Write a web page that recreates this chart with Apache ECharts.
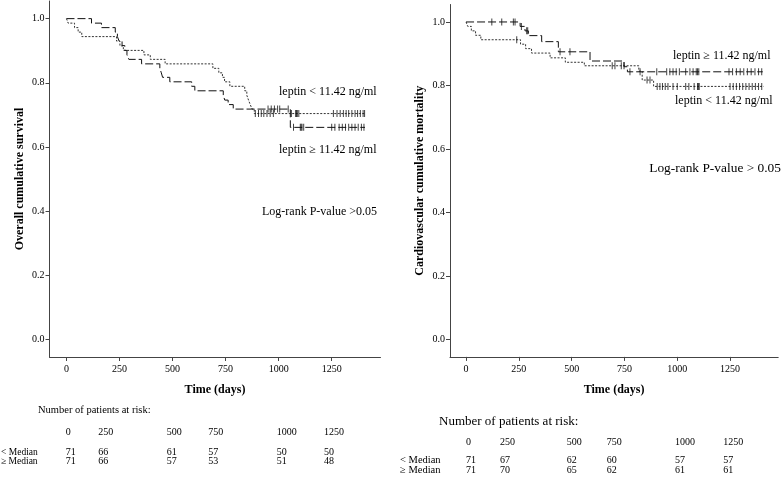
<!DOCTYPE html>
<html><head><meta charset="utf-8">
<script src="https://cdn.jsdelivr.net/npm/echarts@6/dist/echarts.min.js"></script>
<style>html,body{margin:0;padding:0;background:#fff}#c{width:782px;height:477px}</style>
</head><body><div id="c"></div>
<script>
// ---------- data ----------
const timeTicks = [0, 250, 500, 750, 1000, 1250];
const survTicks = [0, 0.2, 0.4, 0.6, 0.8, 1.0];

// Left panel: overall survival (Kaplan-Meier steps [day, survival])
const osLowSteps = [[0,1],[8,0.986],[38,0.972],[55,0.958],[72,0.944],[236,0.930],[252,0.915],[268,0.901],[365,0.887],[395,0.873],[465,0.859],[690,0.845],[718,0.831],[735,0.817],[745,0.803],[770,0.789],[840,0.775],[850,0.761],[858,0.746],[866,0.732],[875,0.718],[885,0.704],[1407,0.704]];
const osHighSteps = [[0,1],[118,0.986],[165,0.972],[230,0.958],[240,0.944],[248,0.930],[262,0.916],[275,0.901],[285,0.887],[294,0.873],[354,0.859],[440,0.845],[447,0.831],[453,0.817],[487,0.803],[590,0.789],[605,0.775],[739,0.761],[746,0.746],[762,0.732],[786,0.718],[1055,0.661],[1407,0.661]];
const osLowCensored = [890,905,918,930,945,960,975,1060,1080,1084,1088,1095,1258,1275,1290,1305,1318,1330,1345,1360,1372,1385,1398,1405];
const osHighCensored = [950,965,980,995,1005,1045,1070,1102,1106,1110,1118,1250,1265,1285,1300,1315,1330,1345,1360,1375,1390,1402];

// Right panel: cardiovascular cumulative mortality
const cvHighSteps = [[0,1],[256,0.986],[279,0.972],[295,0.957],[358,0.938],[437,0.906],[587,0.877],[748,0.859],[764,0.843],[1405,0.843]];
const cvLowSteps = [[0,1],[8,0.986],[25,0.972],[45,0.958],[70,0.944],[258,0.930],[282,0.916],[310,0.902],[398,0.887],[470,0.873],[560,0.862],[818,0.845],[834,0.817],[888,0.797],[1410,0.797]];
const cvHighCensored = [122,169,224,232,262,287,292,445,492,776,824,903,950,965,980,995,1010,1040,1060,1075,1090,1096,1102,1245,1262,1280,1298,1315,1332,1350,1368,1385,1400];
const cvLowCensored = [240,692,705,735,748,857,871,905,918,930,943,956,980,1000,1040,1055,1080,1096,1100,1104,1250,1265,1280,1295,1310,1325,1340,1355,1370,1385,1400];

// Risk tables
const riskGroups = ['< Median', '\u2265 Median'];
const osRiskLow = [71, 66, 61, 57, 50, 50];
const osRiskHigh = [71, 66, 57, 53, 51, 48];
const cvRiskLow = [71, 67, 62, 60, 57, 57];
const cvRiskHigh = [71, 70, 65, 62, 61, 61];

// Texts
const osYTitle = 'Overall cumulative survival';
const cvYTitle = 'Cardiovascular cumulative mortality';
const xTitle = 'Time (days)';
const lowLabel = 'leptin < 11.42 ng/ml';
const highLabel = 'leptin \u2265 11.42 ng/ml';
const osPText = 'Log-rank P-value >0.05';
const cvPText = 'Log-rank P-value > 0.05';
const riskTitle = 'Number of patients at risk:';

// ---------- layout / style ----------
const FF = '"Liberation Serif", "Times New Roman", serif';
const axisColor = '#444';

function valueAt(steps, t) {
  let v = steps[0][1];
  for (const s of steps) { if (s[0] <= t) v = s[1]; else break; }
  return v;
}
function censorPoints(steps, times) { return times.map(t => [t, valueAt(steps, t)]); }

function makeX(gi, min, max) {
  return {
    gridIndex: gi, type: 'value', min: min, max: max,
    axisLine: { show: true, onZero: false, lineStyle: { color: axisColor, width: 1 } },
    axisTick: { show: true, customValues: timeTicks, length: 4, lineStyle: { color: axisColor } },
    axisLabel: { customValues: timeTicks, fontFamily: FF, fontSize: 10, color: '#000', margin: 7, formatter: v => String(v) },
    splitLine: { show: false },
    name: xTitle, nameLocation: 'middle', nameGap: 27,
    nameTextStyle: { fontFamily: FF, fontSize: 12, fontWeight: 'bold', color: '#000' }
  };
}
function makeY(gi, name) {
  return {
    gridIndex: gi, type: 'value', min: -0.055, max: 1.055,
    axisLine: { show: true, onZero: false, lineStyle: { color: axisColor, width: 1 } },
    axisTick: { show: true, customValues: survTicks, length: 4, lineStyle: { color: axisColor } },
    axisLabel: { customValues: survTicks, fontFamily: FF, fontSize: 10, color: '#000', margin: 5, formatter: v => v.toFixed(1) },
    splitLine: { show: false },
    name: name, nameLocation: 'middle', nameGap: 24, nameRotate: 90,
    nameTextStyle: { fontFamily: FF, fontSize: 12, fontWeight: 'bold', color: '#000' }
  };
}
const lowLine = { color: '#333', width: 1, type: [2, 1.5] };
const highLine = { color: '#111', width: 1, type: [8, 3] };
function km(xi, data, style) {
  return { type: 'line', xAxisIndex: xi, yAxisIndex: xi, data: data, step: 'end', symbol: 'none',
           lineStyle: style, silent: true, z: 2 };
}
function cens(xi, data) {
  return { type: 'scatter', xAxisIndex: xi, yAxisIndex: xi, data: data, symbol: 'rect',
           symbolSize: [1, 7], itemStyle: { color: '#111' }, silent: true, z: 3 };
}
function txt(text, x, y, size, align, weight) {
  return { type: 'text', x: x, y: y, silent: true,
           style: { text: text, font: (weight || 'normal') + ' ' + size + 'px ' + FF, fill: '#000',
                    align: align || 'left', verticalAlign: 'middle' } };
}

// risk table columns (pixel positions)
const osCols = [65.7, 98.3, 166.7, 208.3, 276.7, 324];
const cvCols = [466, 500, 566.7, 606.7, 675, 723.3];

const graphics = [
  txt(lowLabel, 279, 91.7, 12), txt(highLabel, 279, 150, 12), txt(osPText, 262, 211.7, 12),
  txt(highLabel, 673, 56, 12), txt(lowLabel, 675, 101, 12), txt(cvPText, 781, 168.3, 13.4, 'right'),
  txt(riskTitle, 38, 410, 10.5), txt(riskTitle, 439, 421.5, 13)
];
timeTicks.forEach((t, i) => {
  graphics.push(txt(String(t), osCols[i], 432, 10));
  graphics.push(txt(String(osRiskLow[i]), osCols[i], 452, 10));
  graphics.push(txt(String(osRiskHigh[i]), osCols[i], 461.5, 10));
  graphics.push(txt(String(t), cvCols[i], 442, 10));
  graphics.push(txt(String(cvRiskLow[i]), cvCols[i], 460.5, 10));
  graphics.push(txt(String(cvRiskHigh[i]), cvCols[i], 470.5, 10));
});
graphics.push(txt(riskGroups[0], 1, 452, 9.5));
graphics.push(txt(riskGroups[1], 1, 461.5, 9.5));
graphics.push(txt(riskGroups[0], 400, 460.5, 10.5));
graphics.push(txt(riskGroups[1], 400, 470.5, 10.5));

const chart = echarts.init(document.getElementById('c'), null, { renderer: 'canvas' });
chart.setOption({
  animation: false,
  backgroundColor: '#fff',
  grid: [
    { left: 49.5, top: 1, width: 331, height: 356 },
    { left: 450, top: 4.5, width: 328.2, height: 352.4 }
  ],
  xAxis: [makeX(0, -80, 1480), makeX(1, -76, 1478)],
  yAxis: [makeY(0, osYTitle), makeY(1, cvYTitle)],
  series: [
    km(0, osLowSteps, lowLine), km(0, osHighSteps, highLine),
    cens(0, censorPoints(osLowSteps, osLowCensored)), cens(0, censorPoints(osHighSteps, osHighCensored)),
    km(1, cvLowSteps, lowLine), km(1, cvHighSteps, highLine),
    cens(1, censorPoints(cvLowSteps, cvLowCensored)), cens(1, censorPoints(cvHighSteps, cvHighCensored))
  ],
  graphic: graphics
});
</script>
</body></html>
